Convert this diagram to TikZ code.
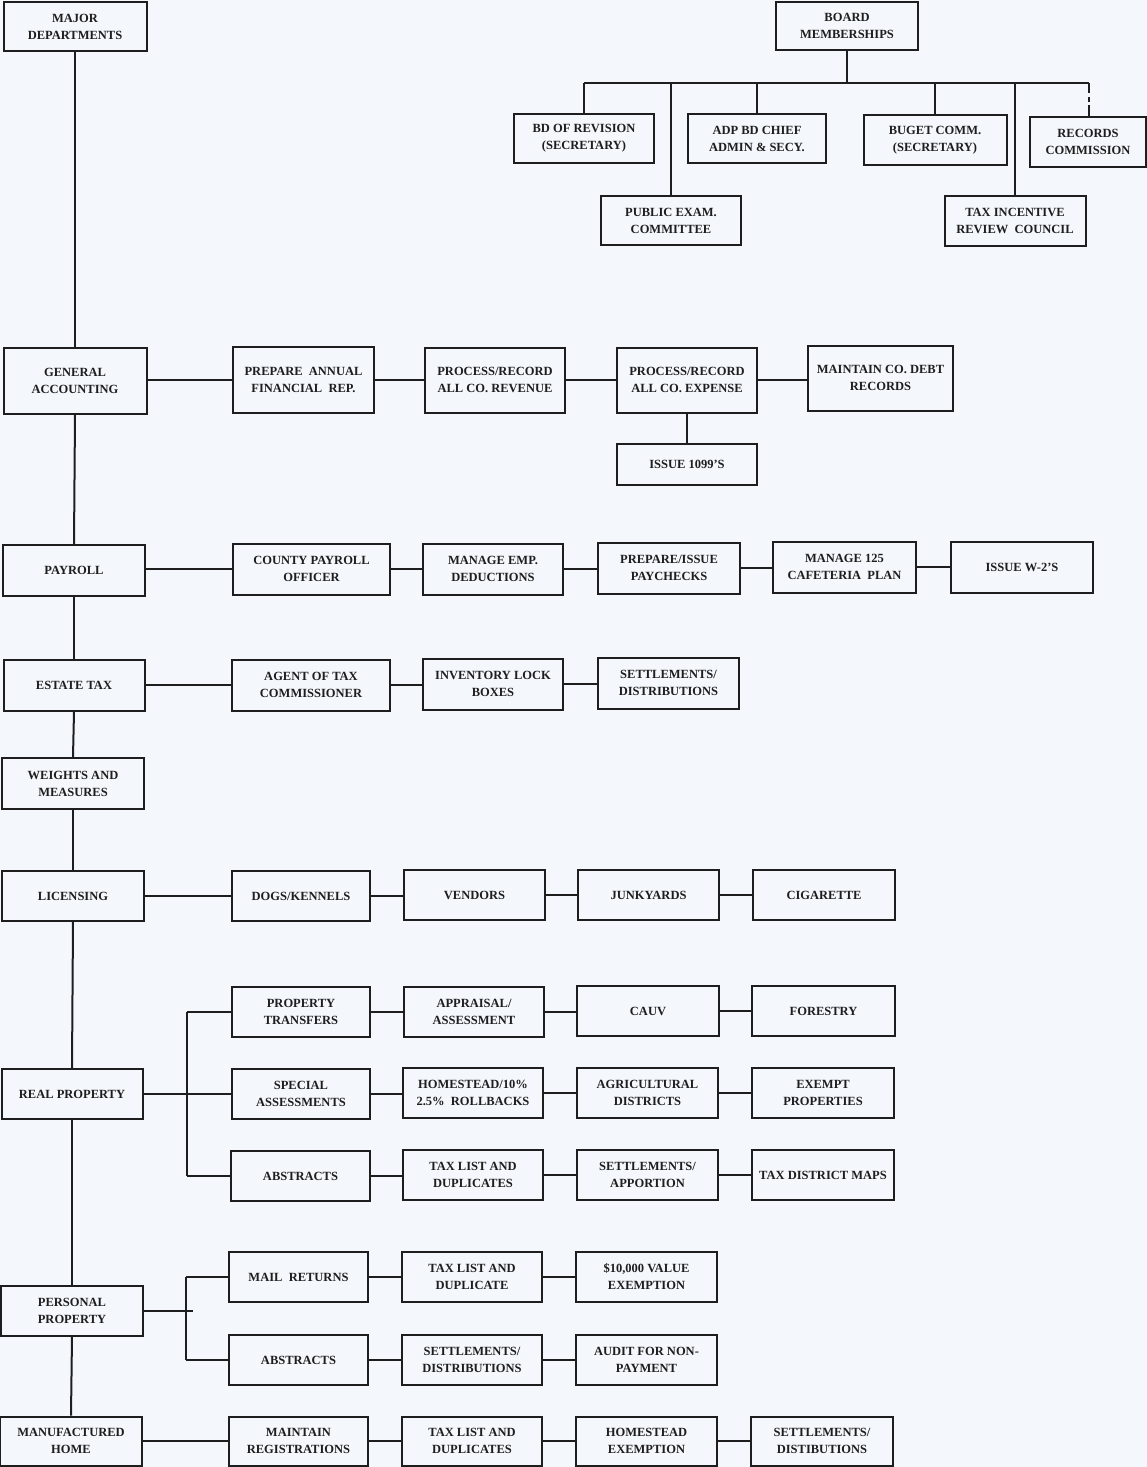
\documentclass[tikz,border=0pt]{standalone}
\usepackage{fontspec}
\setmainfont{Liberation Serif}
\definecolor{paper}{HTML}{F4F8FC}
\definecolor{ink}{HTML}{1E1E1E}
\newcommand{\mybox}[6]{\node[bx, minimum width=#4pt, minimum height=#5pt] (#1) at (#2,#3) {#6};}
\begin{document}
\begin{tikzpicture}[x=1pt,y=-1pt,
  bx/.style={draw=ink, line width=2pt, fill=paper, align=center, inner sep=1pt,
    text=ink, font=\fontsize{12.5}{17}\selectfont\bfseries},
  ln/.style={draw=ink, line width=2pt}]
\fill[paper] (0,0) rectangle (1147,1467);
\useasboundingbox (0,0) rectangle (1147,1467);

% main column
\mybox{md}{75}{26.5}{143}{49}{MAJOR\\DEPARTMENTS}
\mybox{ga}{75}{381}{143}{66}{GENERAL\\ACCOUNTING}
\mybox{pay}{74}{570.5}{142}{51}{PAYROLL}
\mybox{est}{74}{685.5}{141}{51}{ESTATE TAX}
\mybox{wm}{73}{783.5}{142}{51}{WEIGHTS AND\\MEASURES}
\mybox{lic}{73}{896}{142}{50}{LICENSING}
\mybox{rp}{72}{1094}{141}{50}{REAL PROPERTY}
\mybox{pp}{72}{1311}{142}{50}{PERSONAL\\PROPERTY}
\mybox{mh}{71}{1441}{142}{49}{MANUFACTURED\\HOME}

\draw[ln] (md.south) -- (ga.north);
\draw[ln] (ga.south) -- (pay.north);
\draw[ln] (pay.south) -- (est.north);
\draw[ln] (est.south) -- (wm.north);
\draw[ln] (wm.south) -- (lic.north);
\draw[ln] (lic.south) -- (rp.north);
\draw[ln] (rp.south) -- (pp.north);
\draw[ln] (pp.south) -- (mh.north);

% board memberships
\mybox{bm}{847}{26}{142}{48}{BOARD\\MEMBERSHIPS}
\mybox{bdr}{584}{138.5}{140}{49}{BD OF REVISION\\(SECRETARY)}
\mybox{pec}{671}{220.5}{140}{49}{PUBLIC EXAM.\\COMMITTEE}
\mybox{adp}{757}{138.5}{138}{49}{ADP BD CHIEF\\ADMIN \& SECY.}
\mybox{bug}{935}{140}{143}{50}{BUGET COMM.\\(SECRETARY)}
\mybox{tirc}{1015}{221}{141}{50}{TAX INCENTIVE\\REVIEW\ \ COUNCIL}
\mybox{rec}{1088}{142}{116}{50}{RECORDS\\COMMISSION}
\coordinate (busm) at (847,83);
\coordinate (busl) at (584,83);
\coordinate (busr) at (1089,83);
\draw[ln] (bm.south) -- (busm);
\draw[ln] (busl) -- (busr);
\draw[ln] (busl) -- (bdr.north);
\draw[ln] (busl -| pec.north) -- (pec.north);
\draw[ln] (busl -| adp.north) -- (adp.north);
\draw[ln] (busl -| bug.north) -- (bug.north);
\draw[ln] (busl -| tirc.north) -- (tirc.north);
\draw[ln, dash pattern=on 10pt off 4pt on 5pt off 3pt on 12pt off 0pt] (busr) -- (busr |- rec.north);

% general accounting row
\mybox{far}{303.5}{380}{141}{66}{PREPARE\ \ ANNUAL\\FINANCIAL\ \ REP.}
\mybox{rev}{495}{380}{140}{65}{PROCESS/RECORD\\ALL\ CO.\ REVENUE}
\mybox{exp}{687}{380}{140}{65}{PROCESS/RECORD\\ALL\ CO.\ EXPENSE}
\mybox{debt}{880.5}{378}{145}{65}{MAINTAIN CO. DEBT\\RECORDS}
\mybox{iss}{687}{464.5}{140}{41}{ISSUE 1099'S}
\draw[ln] (ga.east |- far.west) -- (far.west);
\draw[ln] (far.east) -- (rev.west);
\draw[ln] (rev.east) -- (exp.west);
\draw[ln] (exp.east) -- (debt.west |- exp.east);
\draw[ln] (exp.south) -- (iss.north);

% payroll row
\mybox{cpo}{311.5}{569}{157}{51}{COUNTY PAYROLL\\OFFICER}
\mybox{med}{493}{569}{140}{51}{MANAGE EMP.\\DEDUCTIONS}
\mybox{pip}{669}{568}{142}{51}{PREPARE/ISSUE\\PAYCHECKS}
\mybox{caf}{844.5}{567}{143}{51}{MANAGE 125\\CAFETERIA\ \ PLAN}
\mybox{wtwo}{1022}{567}{142}{51}{ISSUE W-2'S}
\draw[ln] (pay.east |- cpo.west) -- (cpo.west);
\draw[ln] (cpo.east) -- (med.west |- cpo.east);
\draw[ln] (med.east) -- (pip.west |- med.east);
\draw[ln] (pip.east) -- (caf.west |- pip.east);
\draw[ln] (caf.east) -- (wtwo.west);

% estate tax row
\mybox{atc}{311}{685}{158}{51}{AGENT OF TAX\\COMMISSIONER}
\mybox{ilb}{493}{684}{140}{51}{INVENTORY LOCK\\BOXES}
\mybox{sdone}{668.5}{683}{141}{51}{SETTLEMENTS/\\DISTRIBUTIONS}
\draw[ln] (est.east |- atc.west) -- (atc.west);
\draw[ln] (atc.east) -- (ilb.west |- atc.east);
\draw[ln] (ilb.east) -- (sdone.west |- ilb.east);

% licensing row
\mybox{dog}{301}{896}{138}{50}{DOGS/KENNELS}
\mybox{ven}{474.5}{895}{141}{50}{VENDORS}
\mybox{junk}{648.5}{895}{141}{50}{JUNKYARDS}
\mybox{cig}{824}{895}{142}{50}{CIGARETTE}
\draw[ln] (lic.east |- dog.west) -- (dog.west);
\draw[ln] (dog.east) -- (ven.west |- dog.east);
\draw[ln] (ven.east) -- (junk.west);
\draw[ln] (junk.east) -- (cig.west);

% real property
\mybox{pt}{301}{1012}{138}{50}{PROPERTY\\TRANSFERS}
\mybox{app}{474}{1012}{140}{50}{APPRAISAL/\\ASSESSMENT}
\mybox{cauv}{648}{1011}{142}{50}{CAUV}
\mybox{fore}{823.5}{1011}{143}{50}{FORESTRY}
\mybox{sa}{301}{1094}{138}{50}{SPECIAL\\ASSESSMENTS}
\mybox{hom}{473}{1093}{140}{50}{HOMESTEAD/10\%\\2.5\%\ \ ROLLBACKS}
\mybox{agr}{647.5}{1093}{141}{50}{AGRICULTURAL\\DISTRICTS}
\mybox{exm}{823}{1093}{142}{50}{EXEMPT\\PROPERTIES}
\mybox{abs}{300.5}{1176}{139}{50}{ABSTRACTS}
\mybox{tld}{473}{1175}{140}{50}{TAX LIST AND\\DUPLICATES}
\mybox{sap}{647.5}{1175}{141}{50}{SETTLEMENTS/\\APPORTION}
\mybox{tdm}{823}{1175}{142}{50}{TAX DISTRICT MAPS}
\coordinate (rpj) at (187,1094);
\draw[ln] (rp.east |- sa.west) -- (sa.west);
\draw[ln] (rpj |- pt.west) -- (rpj |- abs.west);
\draw[ln] (rpj |- pt.west) -- (pt.west);
\draw[ln] (rpj |- abs.west) -- (abs.west);
\draw[ln] (pt.east) -- (app.west);
\draw[ln] (app.east) -- (cauv.west |- app.east);
\draw[ln] (cauv.east) -- (fore.west);
\draw[ln] (sa.east) -- (hom.west |- sa.east);
\draw[ln] (hom.east) -- (agr.west);
\draw[ln] (agr.east) -- (exm.west);
\draw[ln] (abs.east) -- (tld.west |- abs.east);
\draw[ln] (tld.east) -- (sap.west);
\draw[ln] (sap.east) -- (tdm.west);

% personal property
\mybox{mr}{298.5}{1277}{139}{50}{MAIL\ \ RETURNS}
\mybox{tltwo}{472}{1277}{140}{50}{TAX LIST AND\\DUPLICATE}
\mybox{ve}{646.5}{1277}{141}{50}{\$10,000 VALUE\\EXEMPTION}
\mybox{abstwo}{298.5}{1360}{139}{50}{ABSTRACTS}
\mybox{sdtwo}{472}{1360}{140}{50}{SETTLEMENTS/\\DISTRIBUTIONS}
\mybox{anp}{646.5}{1360}{141}{50}{AUDIT FOR NON-\\PAYMENT}
\coordinate (ppj) at (186,1311);
\coordinate (ppk) at (193,1311);
\draw[ln] (pp.east) -- (ppk);
\draw[ln] (ppj |- mr.west) -- (ppj |- abstwo.west);
\draw[ln] (ppj |- mr.west) -- (mr.west);
\draw[ln] (ppj |- abstwo.west) -- (abstwo.west);
\draw[ln] (mr.east) -- (tltwo.west);
\draw[ln] (tltwo.east) -- (ve.west);
\draw[ln] (abstwo.east) -- (sdtwo.west);
\draw[ln] (sdtwo.east) -- (anp.west);

% manufactured home
\mybox{mrg}{298.5}{1441}{139}{49}{MAINTAIN\\REGISTRATIONS}
\mybox{tldtwo}{472}{1441}{140}{49}{TAX LIST AND\\DUPLICATES}
\mybox{he}{646.5}{1441}{141}{49}{HOMESTEAD\\EXEMPTION}
\mybox{sdthree}{822}{1441}{142}{49}{SETTLEMENTS/\\DISTIBUTIONS}
\draw[ln] (mh.east |- mrg.west) -- (mrg.west);
\draw[ln] (mrg.east) -- (tldtwo.west);
\draw[ln] (tldtwo.east) -- (he.west);
\draw[ln] (he.east) -- (sdthree.west);
\end{tikzpicture}
\end{document}
